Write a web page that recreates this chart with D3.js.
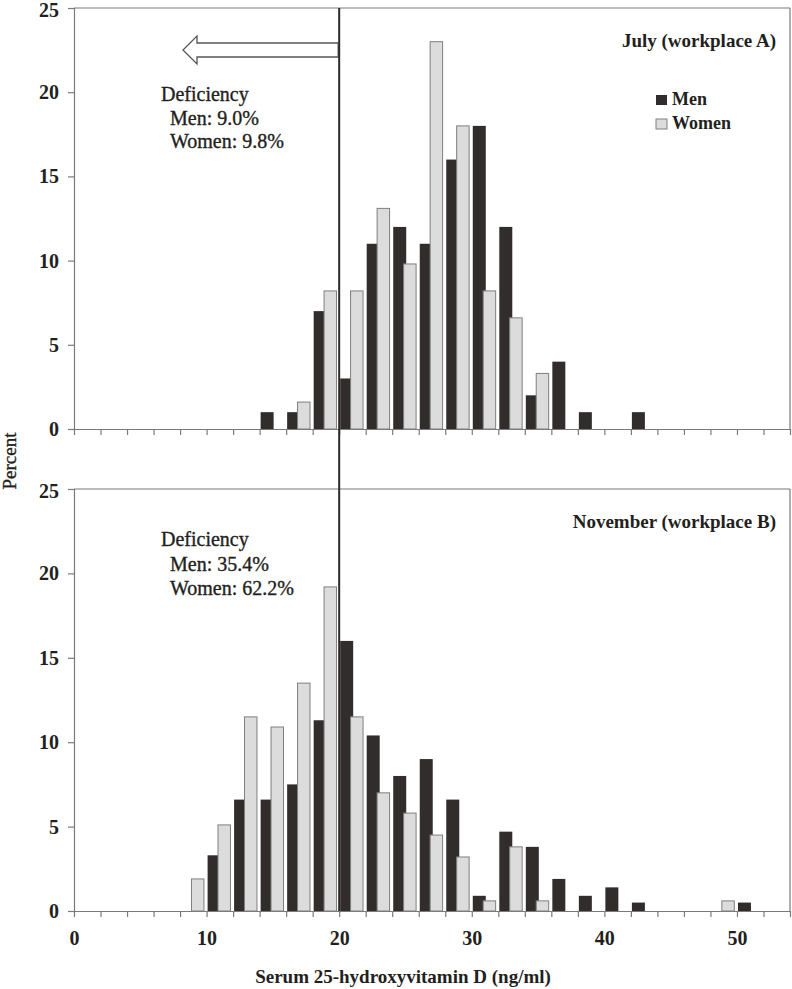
<!DOCTYPE html>
<html>
<head>
<meta charset="utf-8">
<script src="https://cdn.jsdelivr.net/npm/d3@7"></script>
<style>
  html, body { margin: 0; padding: 0; background: #fff; }
  svg { display: block; }
  text { font-family: "Liberation Serif", "Times New Roman", serif; fill: #231f20; }
  .heavy { stroke: #231f20; stroke-width: 0.35px; }
</style>
</head>
<body>
<svg id="chart" width="792" height="989"></svg>
<script>
// Bin start values (ng/ml), bins of width 2
const binStarts = d3.range(0, 54, 2);
// July (workplace A) percentages per bin
const julyMen   = [0,0,0,0,0,0,0,1.0,1.0,7.0,3.0,11.0,12.0,11.0,16.0,18.0,12.0,2.0,4.0,1.0,0,1.0,0,0,0,0,0];
const julyWomen = [0,0,0,0,0,0,0,0,1.6,8.2,8.2,13.1,9.8,23.0,18.0,8.2,6.6,3.3,0,0,0,0,0,0,0,0,0];
// November (workplace B) percentages per bin
const novMen    = [0,0,0,0,0,3.3,6.6,6.6,7.5,11.3,16.0,10.4,8.0,9.0,6.6,0.9,4.7,3.8,1.9,0.9,1.4,0.5,0,0,0,0.5,0];
const novWomen  = [0,0,0,0,1.9,5.1,11.5,10.9,13.5,19.2,11.5,7.0,5.8,4.5,3.2,0.6,3.8,0.6,0,0,0,0,0,0,0.6,0,0];

const yTicks = [0, 5, 10, 15, 20, 25];
const xTickLabels = [0, 10, 20, 30, 40, 50];
const panels = [
  { title: "July (workplace A)", men: julyMen, women: julyWomen,
    deficiency: ["Deficiency", "Men: 9.0%", "Women: 9.8%"] },
  { title: "November (workplace B)", men: novMen, women: novWomen,
    deficiency: ["Deficiency", "Men: 35.4%", "Women: 62.2%"] }
];
const cutoff = 20;

const svg = d3.select("#chart");
const left = 74, right = 790;
const x = d3.scaleLinear().domain([0, 54]).range([left, right]);
const binW = x(2) - x(0);
const panelRanges = [[429, 8], [911, 489]];

const darkFill = "#322d2d";
const lightFill = "#dcdcdc";
const axisCol = "#7a7a7a";

panels.forEach((p, i) => {
  const y = d3.scaleLinear().domain([0, 25]).range(panelRanges[i]);
  const g = svg.append("g");

  // frame: top and right borders
  g.append("line").attr("x1", left).attr("x2", right).attr("y1", y(25)).attr("y2", y(25))
    .attr("stroke", axisCol).attr("stroke-width", 1.2);
  g.append("line").attr("x1", right).attr("x2", right).attr("y1", y(25)).attr("y2", y(0))
    .attr("stroke", axisCol).attr("stroke-width", 1.2);

  // y axis
  const yAxis = d3.axisLeft(y).tickValues(yTicks).tickSize(6).tickPadding(9).tickFormat(d3.format("d"));
  const ya = g.append("g").attr("transform", `translate(${left},0)`).call(yAxis);
  ya.select(".domain").attr("stroke", axisCol).attr("stroke-width", 1.2);
  ya.selectAll(".tick line").attr("stroke", axisCol).attr("stroke-width", 1.2);
  ya.selectAll(".tick text").attr("font-size", 20).attr("font-weight", "bold")
    .attr("font-family", "Liberation Serif").attr("fill", "#231f20")
    .attr("dy", d => d === 25 ? "0.42em" : "0.32em");

  // x axis
  const xAxis = d3.axisBottom(x).tickValues(d3.range(0, 55, 2)).tickSize(6).tickSizeOuter(0)
    .tickFormat(d => (i === 1 && xTickLabels.includes(d)) ? d : "").tickPadding(14);
  const xa = g.append("g").attr("transform", `translate(0,${y(0)})`).call(xAxis);
  xa.select(".domain").attr("stroke", axisCol).attr("stroke-width", 1.2);
  xa.selectAll(".tick line").attr("stroke", axisCol).attr("stroke-width", 1.2);
  xa.selectAll(".tick text").attr("font-size", 20).attr("font-weight", "bold")
    .attr("font-family", "Liberation Serif").attr("fill", "#231f20");

  // bars
  const data = binStarts.map((b, k) => ({ b, men: p.men[k], women: p.women[k] }));
  g.selectAll(".men").data(data.filter(d => d.men > 0)).join("rect")
    .attr("x", d => x(d.b) + 1)
    .attr("width", binW * 0.49)
    .attr("y", d => y(d.men))
    .attr("height", d => y(0) - y(d.men))
    .attr("fill", darkFill);
  g.selectAll(".women").data(data.filter(d => d.women > 0)).join("rect")
    .attr("x", d => x(d.b) + binW * 0.43)
    .attr("width", binW * 0.47)
    .attr("y", d => y(d.women))
    .attr("height", d => y(0) - y(d.women))
    .attr("fill", lightFill)
    .attr("stroke", "#7f7f7f").attr("stroke-width", 1);

  // panel title
  g.append("text").attr("x", 776).attr("y", y(25) + 39).attr("text-anchor", "end")
    .attr("font-size", 19).attr("font-weight", "bold").text(p.title);

  // deficiency annotation
  const baseY = i === 0 ? [101, 125, 148] : [546, 571, 595];
  p.deficiency.forEach((t, j) => {
    g.append("text").attr("class", "heavy").attr("x", j === 0 ? 161 : 170).attr("y", baseY[j])
      .attr("font-size", 20).text(t);
  });
});

// legend (top panel)
const legend = svg.append("g");
[["Men", darkFill, null, 95], ["Women", lightFill, "#7f7f7f", 119]].forEach(([name, fill, stroke, yy]) => {
  legend.append("rect").attr("x", 656).attr("y", yy).attr("width", 11).attr("height", 10)
    .attr("fill", fill).attr("stroke", stroke || "none").attr("stroke-width", 1);
  legend.append("text").attr("x", 672).attr("y", yy + 10).attr("font-size", 18)
    .attr("font-weight", "bold").text(name);
});

// arrow pointing to deficiency side
const ax = x(cutoff) - 1;
const arrowPts = [[ax, 43], [197, 43], [197, 36], [183, 50], [197, 64], [197, 57], [ax, 57]];
svg.append("polygon").attr("points", arrowPts.map(p => p.join(",")).join(" "))
  .attr("fill", "#fff").attr("stroke", "#555").attr("stroke-width", 1.3);

// cutoff line
svg.append("line").attr("x1", x(cutoff)).attr("x2", x(cutoff)).attr("y1", 8).attr("y2", 911)
  .attr("stroke", "#2e2a2a").attr("stroke-width", 2);

// axis titles
svg.append("text").attr("class", "heavy").attr("transform", "translate(16,461) rotate(-90)")
  .attr("text-anchor", "middle").attr("font-size", 19).text("Percent");
svg.append("text").attr("x", 403).attr("y", 983).attr("text-anchor", "middle")
  .attr("font-size", 19).attr("font-weight", "bold").text("Serum 25-hydroxyvitamin D (ng/ml)");
</script>
</body>
</html>
